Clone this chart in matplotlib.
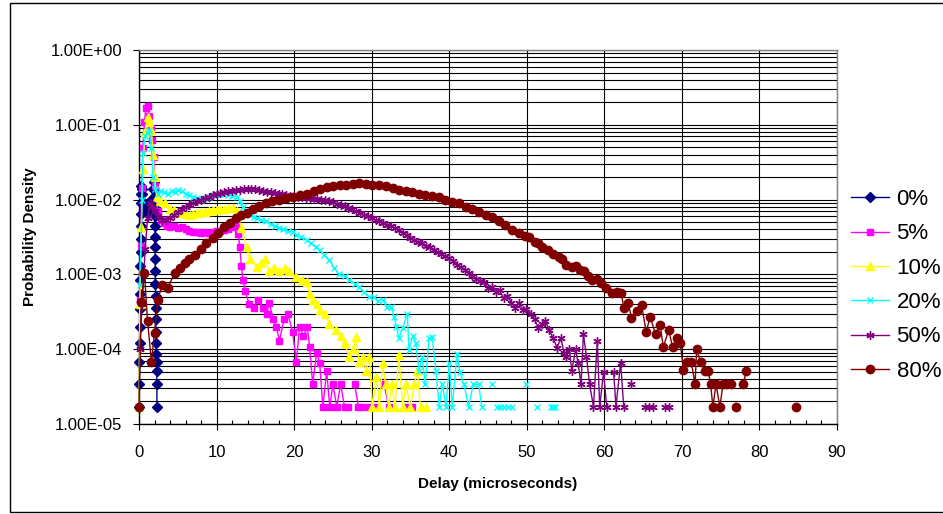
import numpy as np
import matplotlib
matplotlib.use("Agg")
import matplotlib.pyplot as plt
from matplotlib.patches import Rectangle
from matplotlib.ticker import LogLocator, FuncFormatter, MultipleLocator, NullFormatter

plt.rcParams['font.family'] = ['Liberation Sans', 'DejaVu Sans']

# (delay in microseconds, probability density); 0 = empty bin (not drawn on log axis)
pts_0 = [(0.02, 1.7e-5), (0.04, 3.4e-5), (0.06, 6.8e-5), (0.08, 1.2e-4), (0.10, 2.0e-4),
         (0.12, 3.4e-4), (0.14, 5.5e-4), (0.16, 8.5e-4), (0.18, 1.3e-3), (0.20, 2.0e-3),
         (0.22, 3.0e-3), (0.24, 4.5e-3), (0.26, 6.5e-3), (0.28, 9.0e-3), (0.30, 1.2e-2),
         (0.32, 1.5e-2), (0.36, 1.4e-2), (0.40, 1.2e-2), (0.6, 9.0e-3), (0.8, 7.5e-3),
         (1.0, 7.0e-3), (1.2, 7.0e-3), (1.4, 8.0e-3), (1.6, 1.0e-2), (1.8, 1.4e-2),
         (1.9, 1.7e-2), (1.94, 1.4e-2), (1.96, 1.1e-2), (1.98, 8.0e-3), (2.00, 6.0e-3),
         (2.02, 4.4e-3), (2.04, 3.2e-3), (2.06, 2.3e-3), (2.08, 1.6e-3), (2.10, 1.1e-3),
         (2.12, 7.5e-4), (2.14, 5.2e-4), (2.16, 3.6e-4), (2.18, 2.5e-4), (2.20, 1.7e-4),
         (2.22, 1.2e-4), (2.24, 8.5e-5), (2.26, 6.8e-5), (2.28, 5.1e-5), (2.30, 3.4e-5),
         (2.32, 1.7e-5)]

pts_5 = [(0.1, 4.5e-4), (0.2, 2.4e-3), (0.35, 1.45e-2), (0.5, 4.9e-2), (0.7, 1.1e-1),
         (0.9, 1.7e-1), (1.1, 1.8e-1), (1.3, 1.3e-1), (1.5, 9.0e-2), (1.7, 6.3e-2),
         (1.9, 3.7e-2), (2.1, 1.5e-2), (2.4, 7.0e-3), (2.8, 5.4e-3), (3.2, 4.8e-3),
         (3.6, 4.5e-3), (4.0, 4.3e-3), (4.5, 4.4e-3), (5.0, 4.2e-3), (5.5, 4.3e-3),
         (6.0, 4.0e-3), (6.5, 3.8e-3), (7.0, 3.7e-3), (7.5, 3.7e-3), (8.0, 3.6e-3),
         (8.5, 3.7e-3), (9.0, 3.6e-3), (9.5, 3.7e-3), (10.0, 3.8e-3), (10.5, 3.8e-3),
         (11.0, 3.9e-3), (11.5, 4.0e-3), (12.0, 4.3e-3), (12.5, 4.6e-3), (12.8, 3.5e-3),
         (13.0, 2.3e-3), (13.2, 1.3e-3), (13.4, 8.5e-4), (13.7, 6.0e-4), (14.2, 4.0e-4),
         (14.8, 3.6e-4), (15.3, 4.5e-4), (16.0, 3.6e-4), (16.5, 3.0e-4), (16.8, 4.2e-4),
         (17.3, 2.5e-4), (17.7, 2.0e-4), (18.1, 1.3e-4), (18.7, 2.5e-4), (19.2, 3.0e-4),
         (19.8, 1.7e-4), (20.3, 6.8e-5), (20.7, 2.0e-4), (21.2, 1.5e-4), (21.7, 2.0e-4),
         (22.0, 1.07e-4), (22.4, 3.4e-5), (22.9, 8.9e-5), (23.3, 6.5e-5), (23.7, 1.7e-5),
         (24.2, 5.1e-5), (24.6, 1.7e-5), (25.0, 3.4e-5), (25.5, 1.7e-5), (26.0, 3.4e-5),
         (26.5, 1.7e-5), (27.0, 1.7e-5), (27.4, 0), (27.8, 3.4e-5), (28.3, 1.7e-5),
         (28.8, 1.7e-5), (29.3, 0), (29.7, 1.7e-5), (30.3, 1.7e-5), (30.8, 0),
         (31.6, 3.4e-5), (32.2, 1.7e-5), (32.8, 0), (34.5, 1.7e-5), (35.2, 1.7e-5)]

pts_10 = [(0.0, 1.7e-5), (0.1, 4.0e-4), (0.3, 4.3e-3), (0.5, 2.6e-2), (0.8, 8.0e-2),
          (1.1, 1.26e-1), (1.3, 1.1e-1), (1.6, 8.5e-2), (1.8, 4.0e-2), (2.0, 2.0e-2),
          (2.3, 1.1e-2), (2.7, 9.5e-3), (3.3, 8.9e-3), (4.0, 7.5e-3), (4.5, 7.2e-3),
          (5.0, 6.8e-3), (5.5, 6.6e-3), (6.0, 6.5e-3), (6.6, 6.3e-3), (7.0, 6.4e-3),
          (7.5, 6.6e-3), (8.0, 6.8e-3), (8.5, 6.9e-3), (9.0, 7.0e-3), (9.5, 7.2e-3),
          (10.0, 7.3e-3), (10.5, 7.5e-3), (11.0, 7.6e-3), (11.5, 7.8e-3), (12.1, 7.7e-3),
          (12.6, 7.0e-3), (13.2, 4.2e-3), (13.9, 2.3e-3), (14.3, 1.6e-3), (15.2, 1.27e-3),
          (15.7, 1.4e-3), (16.2, 1.6e-3), (16.8, 1.1e-3), (17.4, 1.2e-3), (18.1, 1.1e-3),
          (18.8, 1.2e-3), (19.4, 1.1e-3), (20.3, 9.3e-4), (21.0, 8.5e-4), (21.6, 7.8e-4),
          (22.0, 5.5e-4), (22.4, 4.6e-4), (22.9, 4.0e-4), (23.3, 3.3e-4), (24.0, 3.0e-4),
          (24.5, 2.2e-4), (25.4, 1.8e-4), (26.0, 1.5e-4), (26.5, 1.2e-4), (27.1, 7.9e-5),
          (27.6, 1.0e-4), (28.0, 1.45e-4), (28.4, 6.8e-5), (28.9, 7.9e-5), (29.3, 5.1e-5),
          (29.7, 7.9e-5), (30.1, 1.7e-5), (30.6, 4.3e-5), (31.0, 1.7e-5), (31.4, 6.5e-5),
          (31.8, 3.4e-5), (32.2, 1.7e-5), (32.6, 3.4e-5), (33.0, 1.7e-5), (33.5, 8.3e-5),
          (34.0, 1.7e-5), (34.4, 3.4e-5), (35.0, 1.7e-5), (35.5, 3.4e-5), (35.9, 5.1e-5),
          (36.3, 1.7e-5), (37.0, 1.7e-5)]

pts_20 = [(0.1, 7.2e-4), (0.4, 1.0e-2), (0.5, 4.2e-2), (0.8, 7.0e-2), (1.1, 7.8e-2),
          (1.3, 8.5e-2), (1.6, 4.9e-2), (1.8, 2.0e-2), (2.1, 1.4e-2), (2.4, 1.2e-2),
          (2.8, 1.3e-2), (3.2, 1.25e-2), (3.7, 1.2e-2), (4.2, 1.3e-2), (4.6, 1.25e-2),
          (5.0, 1.35e-2), (5.5, 1.3e-2), (6.0, 1.2e-2), (6.5, 1.15e-2), (7.0, 1.1e-2),
          (7.5, 1.05e-2), (8.0, 1.0e-2), (8.5, 1.05e-2), (9.0, 1.1e-2), (9.5, 1.15e-2),
          (10.0, 1.2e-2), (10.5, 1.2e-2), (11.0, 1.18e-2), (11.5, 1.15e-2), (12.0, 1.12e-2),
          (12.6, 1.1e-2), (13.0, 9.5e-3), (13.4, 7.9e-3), (13.8, 7.0e-3), (14.3, 6.3e-3),
          (14.8, 5.9e-3), (15.2, 5.6e-3), (15.7, 5.3e-3), (16.4, 5.1e-3), (17.0, 4.7e-3),
          (17.5, 4.5e-3), (18.1, 4.2e-3), (18.6, 4.0e-3), (19.2, 3.8e-3), (19.8, 3.7e-3),
          (20.3, 3.4e-3), (20.9, 3.2e-3), (21.6, 2.9e-3), (22.2, 2.6e-3), (22.8, 2.3e-3),
          (23.3, 2.1e-3), (23.9, 1.8e-3), (24.5, 1.55e-3), (25.2, 1.2e-3), (25.8, 1.0e-3),
          (26.5, 9.5e-4), (27.1, 8.5e-4), (27.8, 7.5e-4), (28.4, 6.7e-4), (29.0, 5.8e-4),
          (29.7, 5.0e-4), (30.3, 5.0e-4), (30.8, 4.4e-4), (31.4, 4.6e-4), (32.0, 3.7e-4),
          (32.5, 3.7e-4), (32.9, 2.7e-4), (33.2, 2.0e-4), (33.5, 1.4e-4), (34.0, 1.9e-4),
          (34.6, 3.0e-4), (34.8, 9.8e-5), (35.3, 1.5e-4), (35.7, 1.2e-4), (36.1, 5.1e-5),
          (36.5, 7.9e-5), (36.9, 3.4e-5), (37.4, 1.4e-4), (37.8, 1.45e-4), (38.3, 5.1e-5),
          (38.7, 1.7e-5), (39.1, 3.4e-5), (39.6, 1.7e-5), (40.0, 6.5e-5), (40.4, 1.7e-5),
          (41.0, 8.7e-5), (41.4, 4.9e-5), (41.9, 3.4e-5), (42.5, 1.7e-5), (43.1, 3.4e-5),
          (43.8, 3.4e-5), (44.2, 1.7e-5), (44.6, 0), (45.5, 3.4e-5), (45.9, 0),
          (46.1, 1.7e-5), (46.6, 1.7e-5), (47.1, 1.7e-5), (47.6, 1.7e-5), (48.1, 1.7e-5),
          (48.5, 0), (49.9, 3.4e-5), (50.3, 0), (51.3, 1.7e-5), (51.7, 0), (53.1, 1.7e-5),
          (53.4, 1.7e-5), (53.7, 1.7e-5)]

pts_50 = [(0.1, 1.0e-4), (0.4, 4.0e-4), (0.8, 2.2e-3), (1.1, 5.6e-3), (1.4, 8.9e-3),
          (1.7, 8.0e-3), (2.0, 7.0e-3), (2.5, 6.0e-3), (3.0, 5.4e-3), (3.5, 5.4e-3),
          (4.0, 5.7e-3), (4.5, 6.2e-3), (5.0, 6.8e-3), (5.5, 7.5e-3), (6.0, 8.0e-3),
          (6.5, 8.5e-3), (7.0, 9.0e-3), (7.5, 9.5e-3), (8.0, 1.0e-2), (8.5, 1.05e-2),
          (9.0, 1.1e-2), (9.5, 1.15e-2), (10.0, 1.2e-2), (10.5, 1.22e-2), (11.0, 1.25e-2),
          (11.5, 1.3e-2), (12.0, 1.32e-2), (12.5, 1.35e-2), (13.0, 1.36e-2), (13.5, 1.38e-2),
          (14.0, 1.4e-2), (14.5, 1.38e-2), (15.0, 1.37e-2), (15.5, 1.33e-2), (16.0, 1.3e-2),
          (16.5, 1.28e-2), (17.0, 1.26e-2), (17.5, 1.23e-2), (18.0, 1.2e-2), (18.5, 1.18e-2),
          (19.0, 1.16e-2), (19.5, 1.13e-2), (20.0, 1.12e-2), (20.5, 1.1e-2), (21.0, 1.08e-2),
          (21.5, 1.06e-2), (22.0, 1.05e-2), (22.5, 1.03e-2), (23.0, 1.02e-2), (23.5, 1.0e-2),
          (24.0, 1.0e-2), (24.5, 9.7e-3), (25.0, 9.2e-3), (25.5, 8.8e-3), (26.0, 8.5e-3),
          (26.5, 8.1e-3), (27.0, 7.8e-3), (27.5, 7.4e-3), (28.0, 7.0e-3), (28.5, 6.6e-3),
          (29.0, 6.3e-3), (29.5, 6.0e-3), (30.0, 5.6e-3), (30.5, 5.3e-3), (31.0, 5.1e-3),
          (31.5, 4.9e-3), (32.0, 4.6e-3), (32.5, 4.4e-3), (33.0, 4.2e-3), (33.5, 3.9e-3),
          (34.0, 3.6e-3), (34.5, 3.4e-3), (35.0, 3.1e-3), (35.5, 2.9e-3), (36.0, 2.7e-3),
          (36.5, 2.6e-3), (37.0, 2.4e-3), (37.5, 2.3e-3), (38.0, 2.1e-3), (38.5, 2.0e-3),
          (39.0, 1.85e-3), (39.5, 1.75e-3), (40.0, 1.66e-3), (40.5, 1.5e-3), (41.0, 1.35e-3),
          (41.5, 1.25e-3), (42.0, 1.15e-3), (42.5, 1.05e-3), (43.0, 9.5e-4), (43.5, 8.8e-4),
          (44.0, 8.2e-4), (44.5, 7.8e-4), (45.0, 6.5e-4), (45.5, 6.8e-4), (46.0, 5.8e-4),
          (46.5, 6.2e-4), (47.0, 4.8e-4), (47.5, 5.2e-4), (48.0, 4.2e-4), (48.5, 3.6e-4),
          (49.0, 4.2e-4), (49.5, 3.3e-4), (49.9, 3.5e-4), (50.5, 3.0e-4), (51.0, 2.5e-4),
          (51.5, 1.9e-4), (52.0, 2.2e-4), (52.4, 2.4e-4), (52.9, 1.8e-4), (53.4, 1.4e-4),
          (53.9, 1.05e-4), (54.4, 1.4e-4), (54.8, 9.0e-5), (55.1, 7.9e-5), (55.5, 1.0e-4),
          (55.8, 5.1e-5), (56.3, 1.0e-4), (56.6, 6.6e-5), (57.0, 3.4e-5), (57.3, 1.6e-4),
          (57.7, 7.9e-5), (58.1, 3.4e-5), (58.6, 1.7e-5), (59.1, 1.3e-4), (59.4, 1.7e-5),
          (59.9, 5.0e-5), (60.3, 1.7e-5), (60.7, 0), (61.2, 5.0e-5), (61.5, 1.7e-5),
          (62.1, 6.6e-5), (62.5, 1.7e-5), (62.9, 0), (63.4, 3.4e-5), (63.8, 0),
          (65.3, 1.7e-5), (65.8, 1.7e-5), (66.3, 1.7e-5), (66.7, 0), (67.8, 1.7e-5),
          (68.3, 1.7e-5)]

pts_80 = [(0.0, 1.7e-5), (0.3, 4.3e-4), (0.7, 1.05e-3), (1.1, 2.4e-4), (1.6, 6.8e-5),
          (2.0, 1.65e-4), (2.4, 4.6e-4), (3.0, 7.2e-4), (3.7, 6.5e-4), (4.6, 1.05e-3),
          (5.3, 1.2e-3), (5.9, 1.4e-3), (6.5, 1.6e-3), (7.2, 1.8e-3), (8.0, 2.2e-3),
          (8.7, 2.6e-3), (9.5, 3.1e-3), (10.2, 3.6e-3), (11.0, 4.3e-3), (11.7, 4.9e-3),
          (12.5, 5.6e-3), (13.2, 6.2e-3), (13.9, 6.6e-3), (14.7, 7.4e-3), (15.5, 8.2e-3),
          (16.4, 8.9e-3), (17.2, 9.5e-3), (18.1, 1.0e-2), (19.0, 1.05e-2), (19.8, 1.1e-2),
          (20.7, 1.16e-2), (21.6, 1.2e-2), (22.5, 1.3e-2), (23.3, 1.4e-2), (24.2, 1.48e-2),
          (25.0, 1.52e-2), (25.9, 1.55e-2), (26.7, 1.58e-2), (27.6, 1.6e-2), (28.4, 1.65e-2),
          (29.3, 1.6e-2), (30.1, 1.58e-2), (31.0, 1.55e-2), (31.8, 1.5e-2), (32.7, 1.42e-2),
          (33.5, 1.36e-2), (34.4, 1.3e-2), (35.2, 1.25e-2), (36.1, 1.2e-2), (36.9, 1.15e-2),
          (37.8, 1.12e-2), (38.7, 1.08e-2), (39.5, 1.0e-2), (40.4, 9.4e-3), (41.3, 8.9e-3),
          (42.1, 8.0e-3), (43.0, 7.4e-3), (43.8, 6.8e-3), (44.7, 6.3e-3), (45.5, 5.8e-3),
          (46.4, 5.2e-3), (47.2, 4.6e-3), (48.1, 3.9e-3), (49.0, 3.6e-3), (49.8, 3.3e-3),
          (50.3, 3.2e-3), (51.0, 2.7e-3), (51.5, 2.6e-3), (52.0, 2.3e-3), (52.7, 2.1e-3),
          (53.4, 1.9e-3), (54.1, 1.7e-3), (54.6, 1.6e-3), (55.1, 1.35e-3), (55.8, 1.26e-3),
          (56.4, 1.3e-3), (56.9, 1.15e-3), (57.4, 1.1e-3), (57.9, 9.5e-4), (58.4, 8.5e-4),
          (59.0, 8.8e-4), (59.6, 7.6e-4), (60.2, 6.5e-4), (61.0, 5.6e-4), (61.6, 5.8e-4),
          (62.2, 5.6e-4), (62.5, 3.6e-4), (63.1, 4.1e-4), (63.5, 2.6e-4), (64.2, 3.2e-4),
          (64.8, 3.9e-4), (65.4, 1.7e-4), (65.9, 2.7e-4), (66.6, 1.6e-4), (67.2, 2.1e-4),
          (67.6, 1.07e-4), (68.3, 1.8e-4), (68.8, 1.07e-4), (69.4, 1.4e-4), (69.8, 1.2e-4),
          (70.2, 5.3e-5), (70.6, 6.8e-5), (71.2, 6.8e-5), (71.7, 3.4e-5), (71.9, 1.0e-4),
          (72.4, 6.8e-5), (73.0, 5.1e-5), (73.4, 5.1e-5), (73.7, 3.4e-5), (74.0, 1.7e-5),
          (74.4, 3.4e-5), (74.9, 1.7e-5), (75.3, 3.4e-5), (75.7, 3.4e-5), (76.3, 3.4e-5),
          (76.7, 0), (77.0, 1.7e-5), (77.5, 0), (77.9, 3.4e-5), (78.3, 5.1e-5), (78.8, 0),
          (84.7, 1.7e-5)]

series = [
    ('0%', pts_0, '#000080', 'D', 5),
    ('5%', pts_5, '#FF00FF', 's', 5),
    ('10%', pts_10, '#FFFF00', '^', 6),
    ('20%', pts_20, '#00FFFF', 'x', 5),
    ('50%', pts_50, '#800080', (6, 2, 0), 6),
    ('80%', pts_80, '#800000', 'o', 6),
]

fig = plt.figure(figsize=(9.43, 5.14), dpi=100)
ax = fig.add_axes([139 / 943, 1 - 424 / 514, (837 - 139) / 943, (424 - 50) / 514])

for name, pts, col, mk, ms in series:
    x = np.array([p[0] for p in pts])
    y = np.array([p[1] for p in pts], dtype=float)
    y[y == 0] = np.nan
    ax.plot(x, y, color=col, lw=1, marker=mk, ms=ms, mfc=col, mec=col, mew=1,
            clip_on=False, label=name, zorder=3)

ax.set_yscale('log')
ax.set_ylim(1e-5, 1)
ax.set_xlim(0, 90)

ax.xaxis.set_major_locator(MultipleLocator(10))
ax.xaxis.set_minor_locator(MultipleLocator(2))
ax.yaxis.set_major_locator(LogLocator(base=10, numticks=10))
ax.yaxis.set_minor_locator(LogLocator(base=10, subs=np.arange(2, 10), numticks=20))
ax.yaxis.set_major_formatter(FuncFormatter(lambda v, p: f"{v:.2E}"))
ax.yaxis.set_minor_formatter(NullFormatter())

ax.grid(True, axis='y', which='both', color='black', lw=0.8, zorder=1)
ax.grid(True, axis='x', which='major', color='black', lw=0.8, zorder=1)
ax.set_axisbelow(True)

ax.tick_params(axis='both', which='major', direction='out', length=4, width=0.8,
               labelsize=12, color='black')
ax.tick_params(axis='y', which='major', pad=8)
ax.tick_params(axis='x', which='major', pad=11)
ax.tick_params(axis='x', which='minor', direction='in', length=3, width=0.8)
ax.tick_params(axis='y', which='minor', length=0)

for side in ['top', 'right']:
    ax.spines[side].set_color('#808080')
for side in ['left', 'bottom']:
    ax.spines[side].set_color('black')
for s in ax.spines.values():
    s.set_linewidth(1)

fig.text(30 / 943, 1 - 237 / 514, 'Probability Density', rotation=90, ha='center',
         va='center', fontsize=11, fontweight='bold')
fig.text(498 / 943, 1 - 484 / 514, 'Delay (microseconds)', ha='center', va='center',
         fontsize=11, fontweight='bold')

handles, labels = ax.get_legend_handles_labels()
fig.legend(handles, labels, loc='upper left', bbox_to_anchor=(851 / 943, 1 - 189 / 514),
           frameon=False, fontsize=16, handlelength=1.7, handletextpad=0.35,
           labelspacing=0.6, borderpad=0, borderaxespad=0)

fig.add_artist(Rectangle((10 / 943, 2 / 514), 1.0, 509 / 514, transform=fig.transFigure,
                         fill=False, ec='black', lw=1))

fig.savefig('out.png', dpi=100)
